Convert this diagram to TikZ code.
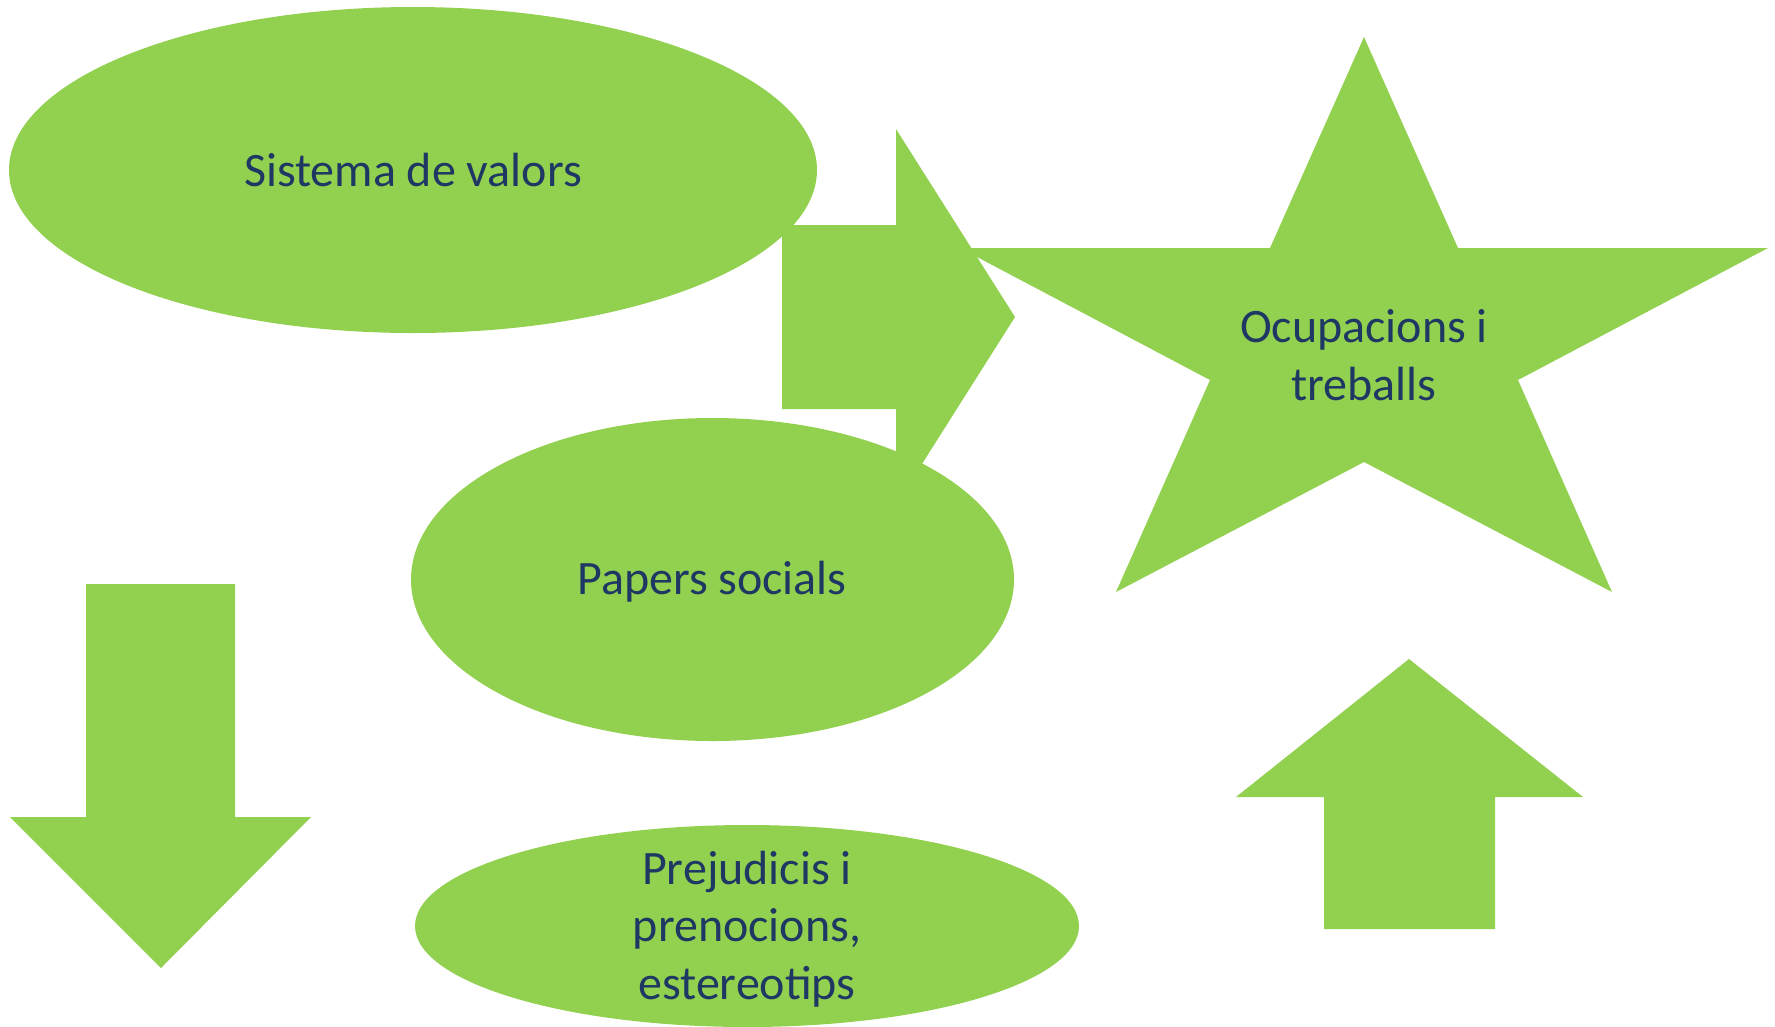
\documentclass[tikz,border=0pt]{standalone}
\usepackage{fontspec}
\setmainfont{Carlito}
\definecolor{shapegreen}{HTML}{92D050}
\definecolor{txtnavy}{HTML}{1F3763}
\begin{document}
\begin{tikzpicture}[x=0.75pt,y=-0.75pt,
  shapefill/.style={fill=shapegreen,draw=none},
  lbl/.style={text=txtnavy,align=center,inner sep=0pt,font=\fontsize{36}{44}\selectfont},
  lblsmall/.style={text=txtnavy,align=center,inner sep=0pt,font=\fontsize{36}{43}\selectfont}]
\useasboundingbox (0,0) rectangle (1775,1026);
% star
\fill[shapefill] (1364,37) -- (1458,248) -- (1768,248) -- (1518,380) -- (1612,592)
  -- (1364,462) -- (1116,592) -- (1210,380) -- (960,248) -- (1270,248) -- cycle;
% right arrow
\fill[shapefill] (782,225) -- (896,225) -- (896,129) -- (1015,317) -- (896,505)
  -- (896,409) -- (782,409) -- cycle;
% down arrow
\fill[shapefill] (86,584) -- (235,584) -- (235,817) -- (311,817) -- (161,968)
  -- (10,817) -- (86,817) -- cycle;
% up arrow
\fill[shapefill] (1409,659) -- (1583,797) -- (1495,797) -- (1495,929) -- (1324,929)
  -- (1324,797) -- (1236,797) -- cycle;
% ellipses
\fill[shapefill] (413,170) ellipse [x radius=404,y radius=163];
\fill[shapefill] (712.5,579.5) ellipse [x radius=301.5,y radius=161.5];
\fill[shapefill] (747,926) ellipse [x radius=332,y radius=101];
% labels
\node[lbl] (valors) at (413,170) {Sistema de valors};
\node[lbl] (ocup) at (1364,355) {Ocupacions i\\treballs};
\node[lbl] (papers) at (712,582) {Papers socials};
\node[lblsmall] (prej) at (747,929) {Prejudicis i\\prenocions,\\estereotips};
\end{tikzpicture}
\end{document}
